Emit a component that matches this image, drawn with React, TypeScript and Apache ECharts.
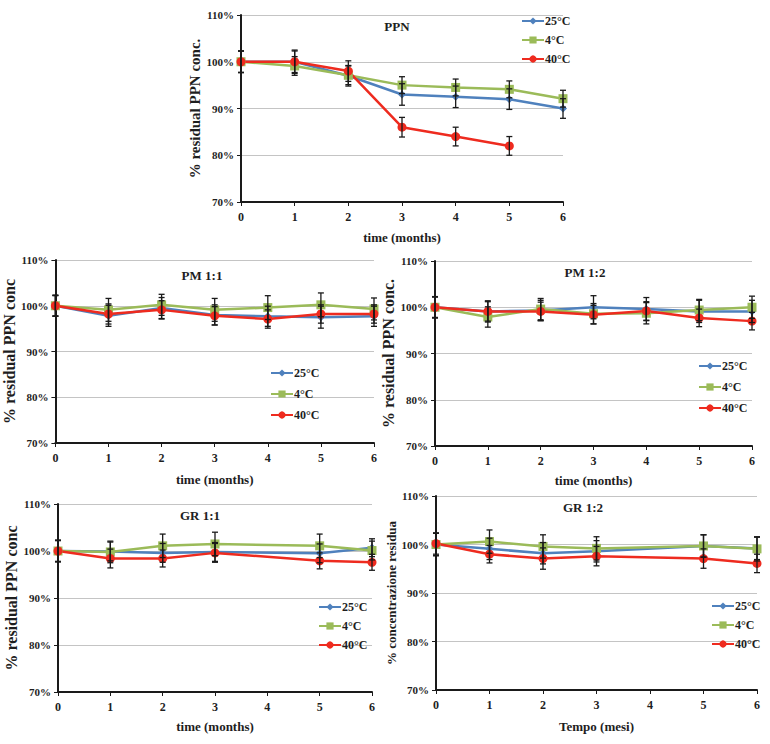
import React, { useEffect, useRef } from "react";
import * as echarts from "echarts";

// ---------- data ----------
const MONTHS = [0, 1, 2, 3, 4, 5, 6];
const MONTHS_GR = [0, 1, 2, 3, 5, 6];
const TEMPS = ["25°C", "4°C", "40°C"];
const Y_TICKS = [70, 80, 90, 100, 110];

// PPN
const PPN_25 = [100, 100, 97, 93, 92.5, 92, 90];
const PPN_25_ERR = [2.3, 2.3, 2.2, 2.3, 2.3, 2.2, 2.1];
const PPN_4 = [100, 99.1, 97.1, 95, 94.5, 94.1, 92.1];
const PPN_4_ERR = [2.3, 2.0, 2.0, 1.8, 1.8, 1.8, 1.8];
const PPN_40 = [100, 100, 98, 86, 84, 82];
const PPN_40_ERR = [2.3, 2.5, 2.2, 2.1, 2.0, 2.0];

// PM 1:1
const PM11_25 = [100, 97.8, 99.5, 98, 97.7, 97.5, 97.7];
const PM11_25_ERR = [2.3, 2.3, 2.3, 2.2, 2.2, 2.4, 2.2];
const PM11_4 = [100, 99.1, 100.2, 99.1, 99.6, 100.2, 99.3];
const PM11_4_ERR = [2.3, 2.5, 2.3, 2.5, 2.6, 2.6, 2.4];
const PM11_40 = [100, 98.2, 99.1, 97.8, 97.1, 98.2, 98.2];
const PM11_40_ERR = [2.2, 2.2, 2.0, 2.0, 2.0, 2.0, 2.0];

// PM 1:2
const PM12_25 = [100, 99.1, 99.3, 100, 99.6, 99.1, 99.1];
const PM12_25_ERR = [2.3, 2.3, 2.2, 2.5, 2.5, 2.4, 2.4];
const PM12_4 = [100, 97.9, 99.6, 98.6, 98.7, 99.4, 100];
const PM12_4_ERR = [2.3, 2.2, 2.3, 2.2, 2.3, 2.3, 2.4];
const PM12_40 = [100, 99.1, 99.1, 98.4, 99.2, 97.7, 97.0];
const PM12_40_ERR = [2.2, 2.1, 2.0, 2.0, 2.0, 1.9, 1.9];

// GR 1:1
const GR11_25 = [100, 99.9, 99.6, 99.8, 99.5, 100.7];
const GR11_25_ERR = [2.3, 2.0, 2.0, 2.0, 2.0, 1.9];
const GR11_4 = [100, 99.8, 101.1, 101.5, 101.1, 100.1];
const GR11_4_ERR = [2.3, 2.3, 2.5, 2.5, 2.5, 2.0];
const GR11_40 = [100, 98.4, 98.4, 99.6, 97.9, 97.6];
const GR11_40_ERR = [2.2, 2.0, 1.8, 2.0, 1.7, 1.7];

// GR 1:2
const GR12_25 = [100, 99.1, 98.2, 98.6, 99.7, 99.2];
const GR12_25_ERR = [2.3, 2.2, 2.2, 2.2, 2.3, 2.3];
const GR12_4 = [100, 100.6, 99.6, 99.2, 99.7, 99.1];
const GR12_4_ERR = [2.3, 2.4, 2.4, 2.4, 2.3, 2.5];
const GR12_40 = [100.2, 98.0, 97.1, 97.6, 97.1, 96.1];
const GR12_40_ERR = [2.2, 1.8, 2.2, 2.0, 2.0, 1.9];

// ---------- styling / layout ----------
const COLORS = ["#4f81bd", "#9bbb59", "#ee2b1f"];
const SYMBOLS = ["diamond", "rect", "circle"];
const SYMBOL_SIZES = [8, 9, 9];
const FONT = "'Liberation Serif', 'Times New Roman', serif";
const TEXT_COLOR = "#1e1e1e";

type Panel = {
  title: string;
  titleX: number;
  titleY: number;
  yName: string;
  yNameSize: number;
  yNameGap: number;
  xName: string;
  xNameGap: number;
  grid: { left: number; top: number; width: number; height: number };
  legend: { left: number; top: number; gap: number };
  series: { x: number[]; y: number[]; err: number[] }[];
};

const PANELS: Panel[] = [
  {
    title: "PPN",
    titleX: 397,
    titleY: 26,
    yName: "% residual PPN conc.",
    yNameSize: 15,
    yNameGap: 30,
    xName: "time (months)",
    xNameGap: 29,
    grid: { left: 241, top: 15, width: 322, height: 187 },
    legend: { left: 521, top: 15, gap: 7 },
    series: [
      { x: MONTHS, y: PPN_25, err: PPN_25_ERR },
      { x: MONTHS, y: PPN_4, err: PPN_4_ERR },
      { x: MONTHS.slice(0, 6), y: PPN_40, err: PPN_40_ERR },
    ],
  },
  {
    title: "PM 1:1",
    titleX: 202,
    titleY: 275,
    yName: "% residual PPN conc",
    yNameSize: 16,
    yNameGap: 33,
    xName: "time (months)",
    xNameGap: 30,
    grid: { left: 55, top: 260, width: 319, height: 183 },
    legend: { left: 270, top: 367, gap: 9 },
    series: [
      { x: MONTHS, y: PM11_25, err: PM11_25_ERR },
      { x: MONTHS, y: PM11_4, err: PM11_4_ERR },
      { x: MONTHS, y: PM11_40, err: PM11_40_ERR },
    ],
  },
  {
    title: "PM 1:2",
    titleX: 585,
    titleY: 272,
    yName: "% residual PPN conc.",
    yNameSize: 16,
    yNameGap: 32,
    xName: "time (months)",
    xNameGap: 28,
    grid: { left: 435, top: 261, width: 317, height: 185 },
    legend: { left: 698, top: 360, gap: 9 },
    series: [
      { x: MONTHS, y: PM12_25, err: PM12_25_ERR },
      { x: MONTHS, y: PM12_4, err: PM12_4_ERR },
      { x: MONTHS, y: PM12_40, err: PM12_40_ERR },
    ],
  },
  {
    title: "GR 1:1",
    titleX: 200,
    titleY: 515,
    yName: "% residual PPN conc",
    yNameSize: 16,
    yNameGap: 34,
    xName: "time (months)",
    xNameGap: 28,
    grid: { left: 58, top: 504, width: 314, height: 188 },
    legend: { left: 318, top: 601, gap: 7 },
    series: [
      { x: MONTHS_GR, y: GR11_25, err: GR11_25_ERR },
      { x: MONTHS_GR, y: GR11_4, err: GR11_4_ERR },
      { x: MONTHS_GR, y: GR11_40, err: GR11_40_ERR },
    ],
  },
  {
    title: "GR 1:2",
    titleX: 583,
    titleY: 507,
    yName: "% concentrazione residua",
    yNameSize: 13,
    yNameGap: 33,
    xName: "Tempo (mesi)",
    xNameGap: 30,
    grid: { left: 436, top: 496, width: 321, height: 194 },
    legend: { left: 711, top: 600, gap: 7 },
    series: [
      { x: MONTHS_GR, y: GR12_25, err: GR12_25_ERR },
      { x: MONTHS_GR, y: GR12_4, err: GR12_4_ERR },
      { x: MONTHS_GR, y: GR12_40, err: GR12_40_ERR },
    ],
  },
];

function buildOption() {
  const grid: any[] = [];
  const xAxis: any[] = [];
  const yAxis: any[] = [];
  const series: any[] = [];
  const legend: any[] = [];
  const graphic: any[] = [];

  PANELS.forEach((p, i) => {
    grid.push({ ...p.grid, containLabel: false });
    xAxis.push({
      type: "value",
      gridIndex: i,
      min: 0,
      max: 6,
      interval: 1,
      name: p.xName,
      nameLocation: "middle",
      nameGap: p.xNameGap,
      nameTextStyle: { fontFamily: FONT, fontWeight: "bold", fontSize: 13, color: TEXT_COLOR },
      axisLine: { show: true, onZero: false, lineStyle: { color: "#1a1a1a", width: 2 } },
      axisTick: { show: true, length: 4, lineStyle: { color: "#1a1a1a", width: 1 } },
      axisLabel: { fontFamily: FONT, fontWeight: "bold", fontSize: 12, color: TEXT_COLOR, margin: 9 },
      splitLine: { show: false },
    });
    yAxis.push({
      type: "value",
      gridIndex: i,
      min: Y_TICKS[0],
      max: Y_TICKS[Y_TICKS.length - 1],
      interval: 10,
      name: p.yName,
      nameLocation: "middle",
      nameGap: p.yNameGap,
      nameTextStyle: { fontFamily: FONT, fontWeight: "bold", fontSize: p.yNameSize, color: TEXT_COLOR },
      axisLine: { show: true, lineStyle: { color: "#1a1a1a", width: 2 } },
      axisTick: { show: true, length: 4, lineStyle: { color: "#1a1a1a", width: 1 } },
      axisLabel: {
        fontFamily: FONT,
        fontWeight: "bold",
        fontSize: 11,
        color: TEXT_COLOR,
        margin: 7,
        formatter: "{value}%",
      },
      splitLine: { show: true, lineStyle: { color: "#c4c4c4", width: 1 } },
    });
    p.series.forEach((s, k) => {
      series.push({
        type: "custom",
        name: TEMPS[k] + " err " + i,
        xAxisIndex: i,
        yAxisIndex: i,
        z: 3,
        silent: true,
        data: s.x.map((x, j) => [x, s.y[j] - s.err[j], s.y[j] + s.err[j]]),
        renderItem: (params: any, api: any) => {
          const x = api.value(0);
          const lo = api.coord([x, api.value(1)]);
          const hi = api.coord([x, api.value(2)]);
          const w = 3;
          const st = { stroke: "#1a1a1a", lineWidth: 1.3 };
          return {
            type: "group",
            children: [
              { type: "line", shape: { x1: lo[0], y1: lo[1], x2: hi[0], y2: hi[1] }, style: st },
              { type: "line", shape: { x1: lo[0] - w, y1: lo[1], x2: lo[0] + w, y2: lo[1] }, style: st },
              { type: "line", shape: { x1: hi[0] - w, y1: hi[1], x2: hi[0] + w, y2: hi[1] }, style: st },
            ],
          };
        },
      });
      series.push({
        type: "line",
        name: TEMPS[k],
        xAxisIndex: i,
        yAxisIndex: i,
        z: 2,
        data: s.x.map((x, j) => [x, s.y[j]]),
        symbol: SYMBOLS[k],
        symbolSize: SYMBOL_SIZES[k],
        showSymbol: true,
        color: COLORS[k],
        itemStyle: { color: COLORS[k] },
        lineStyle: { color: COLORS[k], width: 2.5 },
      });
    });
    legend.push({
      orient: "vertical",
      left: p.legend.left,
      top: p.legend.top,
      itemGap: p.legend.gap,
      itemWidth: 22,
      itemHeight: 9,
      padding: 0,
      selectedMode: false,
      data: TEMPS,
      textStyle: { fontFamily: FONT, fontWeight: "bold", fontSize: 12, color: TEXT_COLOR, padding: [0, 0, 0, -4] },
    });
    graphic.push({
      type: "text",
      x: p.titleX,
      y: p.titleY,
      style: {
        text: p.title,
        fontFamily: FONT,
        fontWeight: "bold",
        fontSize: 13,
        fill: TEXT_COLOR,
        align: "center",
        verticalAlign: "middle",
      },
    });
  });

  return {
    animation: false,
    backgroundColor: "#ffffff",
    grid,
    xAxis,
    yAxis,
    series,
    legend,
    graphic,
  };
}

export default function App() {
  const ref = useRef<HTMLDivElement>(null);
  useEffect(() => {
    if (!ref.current) return;
    const chart = echarts.init(ref.current, undefined, { renderer: "svg" });
    chart.setOption(buildOption() as any);
    return () => chart.dispose();
  }, []);
  return (
    <div
      ref={ref}
      style={{ position: "fixed", left: 0, top: 0, width: 770, height: 744, background: "#fff" }}
    />
  );
}
